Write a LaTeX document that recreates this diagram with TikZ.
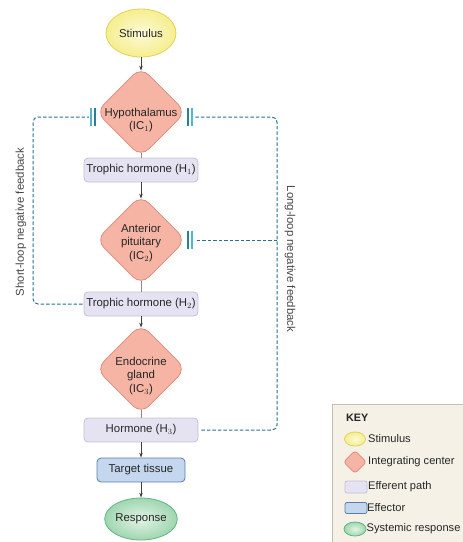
\documentclass[tikz,border=0pt]{standalone}
\usepackage{fontspec}
\setmainfont{Liberation Sans}
\usetikzlibrary{arrows.meta,shapes.geometric}
\definecolor{stimfill}{HTML}{F6EE8E}
\definecolor{stimin}{HTML}{FCFAD8}
\definecolor{stimdraw}{HTML}{E2D25A}
\definecolor{dfill}{HTML}{F5B4A4}
\definecolor{ddraw}{HTML}{E0897A}
\definecolor{efill}{HTML}{E5E3F1}
\definecolor{edraw}{HTML}{C3C0DA}
\definecolor{tfill}{HTML}{C4D7EF}
\definecolor{tdraw}{HTML}{5A7DA6}
\definecolor{rfill}{HTML}{9FD6B0}
\definecolor{rin}{HTML}{E2F4E6}
\definecolor{rdraw}{HTML}{62B584}
\definecolor{fbcol}{HTML}{26728C}
\definecolor{tickA}{HTML}{2A7E96}
\definecolor{tickB}{HTML}{4DBACB}
\definecolor{keybg}{HTML}{F5F1E7}
\definecolor{keydraw}{HTML}{C4BDB0}
\definecolor{txt}{HTML}{262626}
\begin{document}
\begin{tikzpicture}[x=1pt,y=-1pt,
  every node/.style={font=\fontsize{11.4}{13.8}\selectfont, text=txt},
  stimnode/.style={ellipse, draw=stimdraw, line width=0.8pt, inner color=stimin, outer color=stimfill, minimum width=70pt, minimum height=48pt, inner sep=0pt},
  respnode/.style={ellipse, draw=rdraw, line width=0.8pt, inner color=rin, outer color=rfill, minimum width=70pt, minimum height=42pt, inner sep=0pt},
  icnode/.style={diamond, draw=ddraw, fill=dfill, line width=0.8pt, rounded corners=11pt, minimum width=90pt, minimum height=90pt, inner sep=0pt},
  effnode/.style={rectangle, draw=edraw, fill=efill, line width=0.8pt, rounded corners=4pt, minimum width=114pt, minimum height=24pt, inner sep=0pt},
  tgtnode/.style={rectangle, draw=tdraw, fill=tfill, line width=0.8pt, rounded corners=4pt, minimum width=88pt, minimum height=24pt, inner sep=0pt},
  lbl/.style={align=center, inner sep=0pt},
  flow/.style={draw=black!75, line width=0.6pt, -{Stealth[length=5pt,width=3.5pt]}},
  plain/.style={draw=black!45, line width=0.6pt},
  fb/.style={draw=fbcol, line width=1pt, dash pattern=on 3.5pt off 2pt, rounded corners=5pt},
  barA/.style={draw=tickA, line width=1.3pt},
  barB/.style={draw=tickB, line width=1.3pt},
  keytxt/.style={anchor=west, inner sep=0pt, font=\fontsize{11.1}{13}\selectfont}
]
\useasboundingbox (0,0) rectangle (463,542);
\clip (0,0) rectangle (463,542);

% key
\draw[fill=keybg, draw=keydraw, line width=0.8pt] (332,404) rectangle (480,560);
\node[anchor=west, inner sep=0pt, font=\fontsize{10.8}{12}\selectfont\bfseries] (keyt) at (346,418) {KEY};
\node[stimnode, minimum width=21pt, minimum height=14pt] (k1) at (355,439) {};
\node[keytxt] (k1t) at (368,439) {Stimulus};
\node[icnode, minimum width=23pt, minimum height=23pt, rounded corners=3pt] (k2) at (355,462) {};
\node[keytxt] (k2t) at (368,462) {Integrating center};
\node[effnode, minimum width=22pt, minimum height=12pt, rounded corners=2pt] (k3) at (356,487) {};
\node[keytxt] (k3t) at (368,487) {Efferent path};
\node[tgtnode, minimum width=22pt, minimum height=11pt, rounded corners=2pt] (k4) at (356,508) {};
\node[keytxt] (k4t) at (367,508) {Effector};
\node[respnode, minimum width=22pt, minimum height=14pt] (k5) at (355,529) {};
\node[keytxt] (k5t) at (366.5,529) {Systemic response};

% main column
\node[stimnode] (stim) at (141,33) {Stimulus};
\node[icnode] (ic1) at (141,112) {};
\node[lbl] (ic1t) at (141,120) {Hypothalamus\\(IC$_1$)};
\node[effnode] (h1) at (141,170) {Trophic hormone (H$_1$)};
\node[icnode] (ic2) at (141,240) {};
\node[lbl] (ic2t) at (141,243) {Anterior\\pituitary\\(IC$_2$)};
\node[effnode] (h2) at (141,304) {Trophic hormone (H$_2$)};
\node[icnode] (ic3) at (141,369) {};
\node[lbl] (ic3t) at (141,376) {Endocrine\\gland\\(IC$_3$)};
\node[effnode] (h3) at (141,430) {Hormone (H$_3$)};
\node[tgtnode] (tgt) at (141,470) {Target tissue};
\node[respnode] (resp) at (141,519) {Response};

% connectors
\draw[flow] (stim.south) -- ([yshift=-4pt]ic1.north);
\draw[plain] ([yshift=4pt]ic1.south) -- (h1.north);
\draw[flow] (h1.south) -- ([yshift=-4pt]ic2.north);
\draw[plain] ([yshift=4pt]ic2.south) -- (h2.north);
\draw[flow] (h2.south) -- ([yshift=-4pt]ic3.north);
\draw[plain] ([yshift=4pt]ic3.south) -- (h3.north);
\draw[flow] (h3.south) -- (tgt.north);
\draw[flow] (tgt.south) -- (resp.north);

% feedback coordinates
\coordinate (slc) at (33,117);
\coordinate (slend) at (89,117);
\coordinate (llc) at (277,117);
\coordinate (llend) at (195,117);
\coordinate (llmid) at (277,240);
\coordinate (llend2) at (195,240);

\draw[fb] ([xshift=-1pt]h2.west) -| (slc) -- (slend);
\draw[fb] ([xshift=3pt]h3.east) -| (llc) -- (llend);
\draw[fb] (llmid) -- (llend2);

% blocking bars
\draw[barB] (91,108) -- (91,126);
\draw[barA] (95,108) -- (95,126);
\draw[barA] (188,108) -- (188,126);
\draw[barB] (192,108) -- (192,126);
\draw[barA] (188,231) -- (188,249);
\draw[barB] (192,231) -- (192,249);

% loop labels
\node[rotate=90, inner sep=0pt, text=black!72] (sll) at (21,222) {Short-loop negative feedback};
\node[rotate=-90, inner sep=0pt, text=black!72] (lll) at (290,259) {Long-loop negative feedback};
\end{tikzpicture}
\end{document}
